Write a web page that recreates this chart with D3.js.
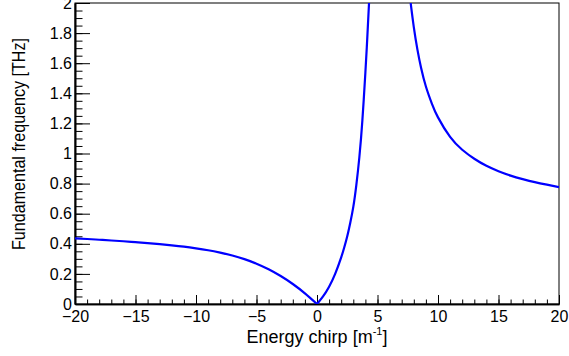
<!DOCTYPE html>
<html>
<head>
<meta charset="utf-8">
<script src="https://cdn.jsdelivr.net/npm/d3@7"></script>
<style>
	body { margin: 0; background: #fff; }
	svg { display: block; }
	text { font-family: "Liberation Sans", Arial, sans-serif; fill: #000; }
	.axis path, .axis line { stroke: #000; }
</style>
</head>
<body>
<script>
// values, x in 1/m, y in THz
var negChirp = [-20, -19, -18, -17, -16, -15, -14, -13, -12, -11, -10, -9, -8, -7, -6, -5, -4, -3, -2, -1, 0];
var negFreq = [0.436, 0.432, 0.427, 0.422, 0.417, 0.411, 0.405, 0.398, 0.390, 0.381, 0.370, 0.357, 0.341, 0.322, 0.298, 0.268, 0.231, 0.186, 0.133, 0.071, 0];

var riseChirp = [0, 0.5, 1.0, 1.5, 2.0, 2.25, 2.5, 2.75, 3.0, 3.25, 3.5, 3.75, 4.0, 4.15, 4.3];
var riseFreq = [0, 0.05, 0.115, 0.2, 0.31, 0.375, 0.45, 0.54, 0.645, 0.79, 0.975, 1.22, 1.54, 1.76, 2.0];

var fallChirp = [7.74, 8.0, 8.3, 8.6, 9.0, 9.5, 10.0, 11.0, 12.0, 13.0, 14.0, 15.0, 16.0, 17.0, 18.0, 19.0, 20.0];
var fallFreq = [2.0, 1.84, 1.69, 1.57, 1.445, 1.33, 1.24, 1.11, 1.025, 0.965, 0.918, 0.882, 0.853, 0.83, 0.81, 0.793, 0.777];

var xTicks = [-20, -15, -10, -5, 0, 5, 10, 15, 20];
var yTicks = [0, 0.2, 0.4, 0.6, 0.8, 1, 1.2, 1.4, 1.6, 1.8, 2];

var margin = {
	top: 3,
	right: 10,
	bottom: 52,
	left: 75
};

var width = 569 - margin.left - margin.right,
	height = 356 - margin.top - margin.bottom;

var svg = d3.select("body").append("svg")
	.attr("width", width + margin.left + margin.right)
	.attr("height", height + margin.top + margin.bottom)
	.append("g")
	.attr("transform", "translate(" + margin.left + "," + margin.top + ")");

var xScale = d3.scaleLinear()
	.range([0, width])
	.domain([-20, 20]);

var yScale = d3.scaleLinear()
	.range([height, 0])
	.domain([0, 2]);

svg.append("clipPath")
	.attr("id", "plotClip")
	.append("rect")
	.attr("width", width)
	.attr("height", height);

// frame
svg.append("rect")
	.attr("width", width)
	.attr("height", height)
	.attr("fill", "none")
	.attr("stroke", "#000")
	.attr("stroke-width", 1);

// minor ticks first, majors on top
svg.append("g")
	.attr("class", "axis")
	.call(d3.axisLeft(yScale)
		.tickValues(d3.range(0, 2.0001, 0.05))
		.tickSizeInner(-7.5)
		.tickSizeOuter(0)
		.tickFormat(""));

svg.append("g")
	.attr("class", "axis")
	.attr("transform", "translate(0," + height + ")")
	.call(d3.axisBottom(xScale)
		.tickValues(d3.range(-20, 20.001, 1))
		.tickSizeInner(-4.5)
		.tickSizeOuter(0)
		.tickFormat(""));

var yAxis = svg.append("g")
	.attr("class", "axis")
	.call(d3.axisLeft(yScale)
		.tickValues(yTicks)
		.tickSizeInner(-15)
		.tickSizeOuter(0)
		.tickPadding(3)
		.tickFormat(d3.format("~g")));

var xAxis = svg.append("g")
	.attr("class", "axis")
	.attr("transform", "translate(0," + height + ")")
	.call(d3.axisBottom(xScale)
		.tickValues(xTicks)
		.tickSizeInner(-9)
		.tickSizeOuter(0)
		.tickPadding(6.5)
		.tickFormat(d3.format("d")));

svg.selectAll(".axis .domain").attr("stroke-width", 1.6);
svg.selectAll(".axis text").style("font-size", "16px");

// curve, split at the cusp and at the pole
var lineDraw = d3.line()
	.curve(d3.curveNatural)
	.x(function(d) {
		return xScale(d[0]);
	})
	.y(function(d) {
		return yScale(d[1]);
	});

var branches = [
	d3.zip(negChirp, negFreq),
	d3.zip(riseChirp, riseFreq),
	d3.zip(fallChirp, fallFreq)
];

svg.append("g")
	.attr("clip-path", "url(#plotClip)")
	.selectAll("path")
	.data(branches)
	.enter().append("path")
	.attr("fill", "none")
	.attr("stroke", "#0000ff")
	.attr("stroke-width", 2.2)
	.attr("stroke-linejoin", "round")
	.attr("d", lineDraw);

// titles
var xTitle = svg.append("text")
	.attr("x", width / 2)
	.attr("y", 340)
	.attr("text-anchor", "middle")
	.style("font-size", "18px");
xTitle.append("tspan").text("Energy chirp [m");
xTitle.append("tspan")
	.attr("dy", -8)
	.style("font-size", "11px")
	.text("-1");
xTitle.append("tspan")
	.attr("dy", 8)
	.text("]");

svg.append("text")
	.attr("transform", "translate(" + (25 - margin.left) + "," + (144 - margin.top) + ") rotate(-90)")
	.attr("text-anchor", "middle")
	.attr("textLength", 212)
	.attr("lengthAdjust", "spacingAndGlyphs")
	.style("font-size", "18px")
	.text("Fundamental frequency [THz]");
</script>
</body>
</html>
